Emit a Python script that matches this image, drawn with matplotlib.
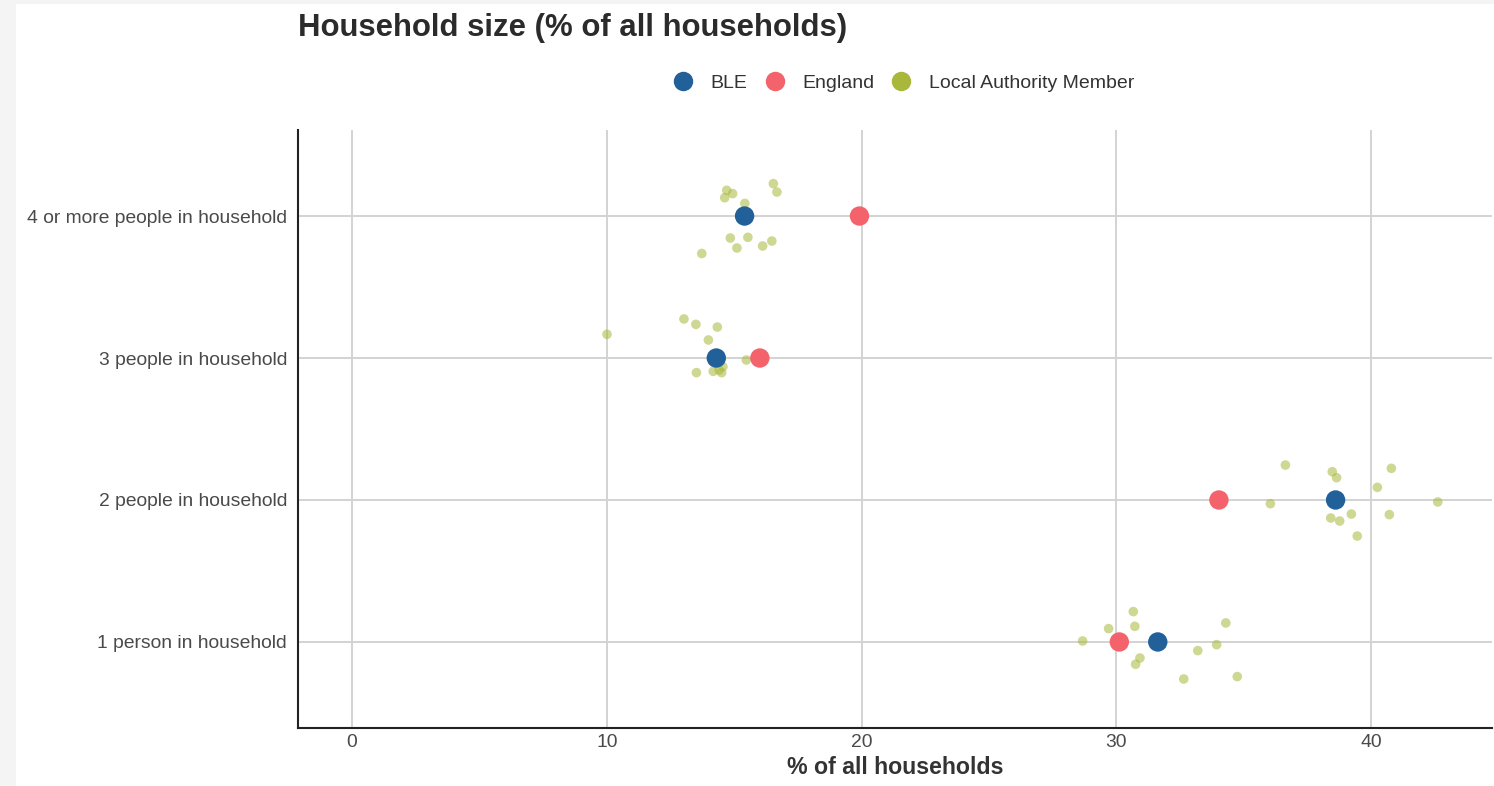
import matplotlib.pyplot as plt
from matplotlib.patches import Rectangle
from matplotlib.lines import Line2D

plt.rcParams['font.family'] = ['Liberation Sans', 'DejaVu Sans']

categories = ['1 person in household', '2 people in household',
              '3 people in household', '4 or more people in household']

ble = [31.63, 38.61, 14.30, 15.41]
england = [30.12, 34.03, 16.01, 19.92]

# local authority members: (category index, value, vertical jitter)
la_cat = [3] * 12 + [2] * 11 + [1] * 12 + [0] * 11
la_val = [14.71, 14.94, 14.63, 15.42, 16.54, 16.68, 14.85, 15.54, 15.11, 16.12, 16.48, 13.73,
          10.01, 13.03, 13.50, 14.34, 13.99, 15.48, 13.52, 14.18, 14.56, 14.51, 14.41,
          36.64, 38.48, 38.65, 40.80, 40.25, 36.05, 42.62, 39.23, 38.42, 38.77, 40.72, 39.46,
          28.68, 29.70, 30.67, 30.73, 30.93, 30.76, 33.20, 33.94, 34.30, 32.65, 34.75]
la_jit = [0.181, 0.158, 0.129, 0.089, 0.228, 0.169, -0.155, -0.150, -0.225, -0.211, -0.176, -0.264,
          0.167, 0.275, 0.237, 0.218, 0.127, -0.014, -0.103, -0.094, -0.061, -0.103, -0.085,
          0.246, 0.199, 0.157, 0.223, 0.089, -0.026, -0.014, -0.099, -0.127, -0.148, -0.103, -0.254,
          0.007, 0.094, 0.214, 0.110, -0.113, -0.157, -0.061, -0.019, 0.134, -0.261, -0.244]

c_ble = '#22609a'
c_eng = '#f4636b'
c_la = '#a9b83b'

fig = plt.figure(figsize=(14.94, 7.86), dpi=100, facecolor='#f4f4f4')
fig.patches.append(Rectangle((16 / 1494, 0), 1, 782 / 786, transform=fig.transFigure,
                             facecolor='white', edgecolor='none', zorder=-1))

ax = fig.add_axes([298 / 1494, 58 / 786, 1194 / 1494, 598 / 786])
ax.set_zorder(1)
ax.set_facecolor('white')

ypos = [i + 1 for i in range(len(categories))]
la_y = [ypos[c] + j for c, j in zip(la_cat, la_jit)]

ax.scatter(la_val, la_y, s=48, color=c_la, alpha=0.55, edgecolors='none', zorder=3)
ax.scatter(england, ypos, s=195, color=c_eng, edgecolors='none', zorder=4)
ax.scatter(ble, ypos, s=195, color=c_ble, edgecolors='none', zorder=5)

ax.set_xlim(-2.12, 44.75)
ax.set_ylim(0.394, 4.606)
ax.set_xticks([0, 10, 20, 30, 40])
ax.set_yticks(ypos)
ax.set_yticklabels(categories)
ax.grid(True, color='#d3d3d3', linewidth=1.4)
ax.set_axisbelow(True)
ax.tick_params(length=0, labelsize=13.9, colors='#4a4a4a')
ax.tick_params(axis='y', pad=8)
ax.tick_params(axis='x', pad=4)
for s in ['top', 'right']:
    ax.spines[s].set_visible(False)
for s in ['left', 'bottom']:
    ax.spines[s].set_color('#222222')
    ax.spines[s].set_linewidth(1.5)

ax.set_xlabel('% of all households', fontsize=16.7, fontweight='bold', color='#333333', labelpad=4)

fig.text(298 / 1494, 1 - 28 / 786, 'Household size (% of all households)', fontsize=22.4,
         fontweight='bold', color='#2b2b2b', va='center', ha='left')

handles = [Line2D([], [], marker='o', linestyle='none', markersize=14, color=c, markeredgewidth=0)
           for c in [c_ble, c_eng, c_la]]
fig.legend(handles, ['BLE', 'England', 'Local Authority Member'], loc='center',
           bbox_to_anchor=(899 / 1494, 1 - 83 / 786), ncol=3, frameon=False, fontsize=14,
           handletextpad=0.4, columnspacing=0.4, labelcolor='#333333')

fig.savefig('out.png', dpi=100, facecolor=fig.get_facecolor())
